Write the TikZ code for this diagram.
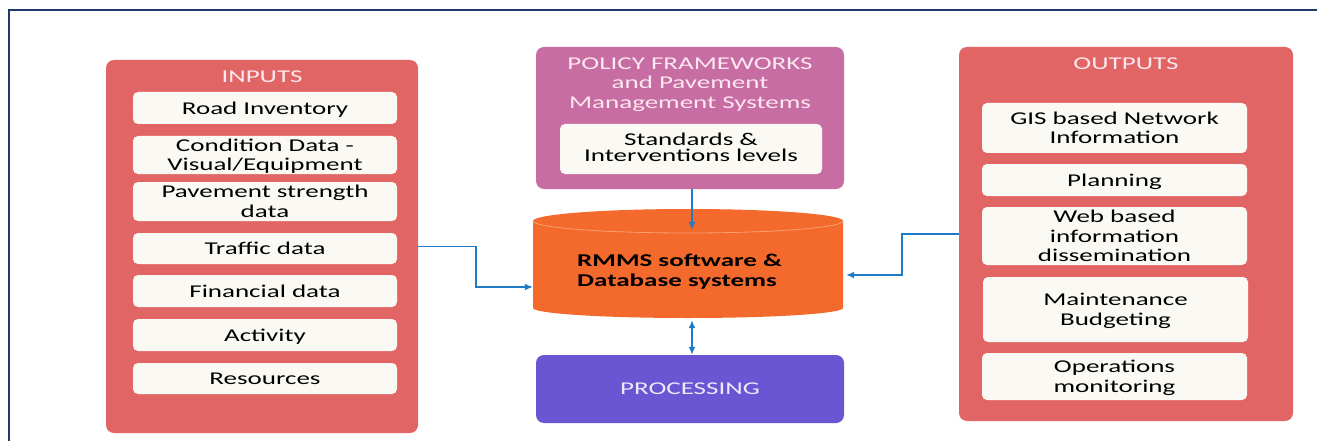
\documentclass[tikz,border=0pt]{standalone}
\usepackage{fontspec}
\setmainfont{Carlito}[FakeStretch=1.5]
\usetikzlibrary{arrows.meta,calc}
\definecolor{frame}{HTML}{1F3A6B}
\definecolor{boxred}{HTML}{E26565}
\definecolor{itembg}{HTML}{FAF9F4}
\definecolor{policy}{HTML}{C86DA4}
\definecolor{dbor}{HTML}{F4692C}
\definecolor{dbedge}{HTML}{F9A070}
\definecolor{proc}{HTML}{6A55D2}
\definecolor{hdrtext}{HTML}{FCE8EE}
\definecolor{proctext}{HTML}{EEE8FA}
\definecolor{arrblue}{HTML}{1F7BC5}
\begin{document}
\begin{tikzpicture}[x=1pt,y=-1pt,
  container/.style={rounded corners=8pt, fill=#1, draw=none, inner sep=0pt},
  item/.style={rounded corners=5pt, fill=itembg, draw=none, align=center, inner sep=0pt,
    text depth=0pt, font=\fontsize{18}{19.5}\selectfont, text=black},
  header/.style={font=\fontsize{18}{19.5}\selectfont, text=hdrtext, align=center, inner sep=0pt, text depth=0pt},
  arr/.style={draw=arrblue, line width=1.5pt, -{Latex[length=8pt,width=7pt]}},
  darr/.style={draw=arrblue, line width=1.5pt, {Latex[length=8pt,width=7pt]}-{Latex[length=8pt,width=7pt]}}
]
\useasboundingbox (0,0) rectangle (1317,441);
\fill[white] (0,0) rectangle (1317,441);
\draw[frame, line width=2.5pt] (9,445) -- (9,10) -- (1320,10);

% INPUTS
\node[container=boxred, minimum width=312pt, minimum height=373pt] (inputs) at (262,246.5) {};
\node[header] (inlbl) at (262,76.2) {INPUTS};
\node[item, minimum width=264pt, minimum height=32pt] (i1) at (265,108) {Road Inventory};
\node[item, minimum width=264pt, minimum height=38pt] (i2) at (265,155) {Condition Data -\\Visual/Equipment};
\node[item, minimum width=264pt, minimum height=39pt] (i3) at (265,201.5) {Pavement strength\\data};
\node[item, minimum width=264pt, minimum height=31pt] (i4) at (265,248.5) {Traffic data};
\node[item, minimum width=264pt, minimum height=32pt] (i5) at (265,291) {Financial data};
\node[item, minimum width=264pt, minimum height=32pt] (i6) at (265,335) {Activity};
\node[item, minimum width=264pt, minimum height=31pt] (i7) at (265,378.5) {Resources};

% POLICY
\node[container=policy, minimum width=308pt, minimum height=142pt] (policy) at (690,118) {};
\node[header] (pollbl) at (690,83) {POLICY FRAMEWORKS\\and Pavement\\Management Systems};
\node[item, minimum width=262pt, minimum height=50pt, text depth=2.5pt, font=\fontsize{18}{16}\selectfont] (std) at (691,149) {Standards \&\\Interventions levels};

% DATABASE cylinder
\fill[dbor] (533,221) -- (533,308) arc[start angle=180, end angle=0, x radius=155, y radius=10]
  -- (843,221) arc[start angle=0, end angle=-180, x radius=155, y radius=12] -- cycle;
\draw[dbedge, line width=0.8pt] (533,221) arc[start angle=180, end angle=0, x radius=155, y radius=12];
\node[inner sep=0pt, minimum width=310pt, minimum height=90pt] (db) at (688,275) {};
\node[anchor=west, align=left, inner sep=0pt, text depth=0pt, font=\bfseries\fontsize{18}{20}\selectfont, text=black] (dbtext) at (577,270) {RMMS software \&\\Database systems};

% PROCESSING
\node[container=proc, minimum width=308pt, minimum height=68pt] (proc) at (690,389) {};
\node[header, text=proctext] (proclbl) at (690,388.5) {PROCESSING};

% OUTPUTS
\node[container=boxred, minimum width=334pt, minimum height=374pt] (outputs) at (1126,234) {};
\node[header] (outlbl) at (1126,63.5) {OUTPUTS};
\node[item, minimum width=265pt, minimum height=50pt] (o1) at (1114.5,128) {GIS based Network\\Information};
\node[item, minimum width=265pt, minimum height=32pt] (o2) at (1114.5,180) {Planning};
\node[item, minimum width=265pt, minimum height=58pt] (o3) at (1114.5,236) {Web based\\information\\dissemination};
\node[item, minimum width=265pt, minimum height=65pt] (o4) at (1115.5,309.5) {Maintenance\\Budgeting};
\node[item, minimum width=265pt, minimum height=47pt] (o5) at (1114.5,376.5) {Operations\\monitoring};

% CONNECTORS
\draw[arr] (inputs.east) -- ++(58,0) |- ([yshift=-12pt]db.west);
\draw[arr] (outputs.west) -- ++(-57,0) |- ([xshift=3pt]db.east);
\draw[arr] ([xshift=2pt]policy.south) -- ([xshift=2pt]policy.south |- db.north);
\draw[darr] ([xshift=2pt]proc.north |- db.south) -- ([xshift=2pt]proc.north);
\end{tikzpicture}
\end{document}
